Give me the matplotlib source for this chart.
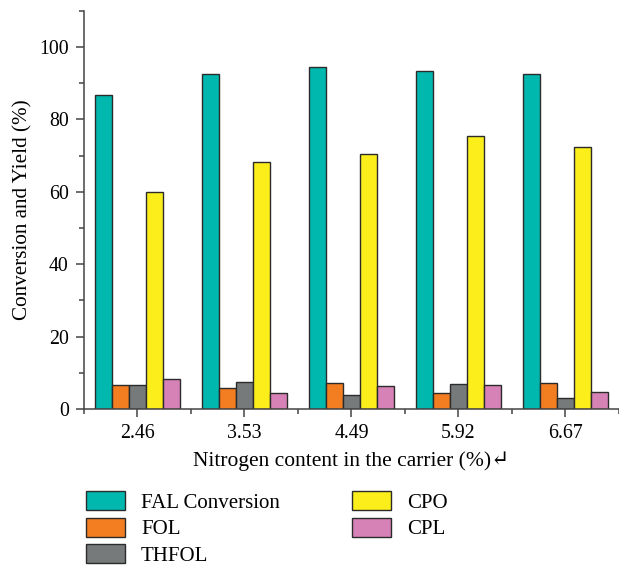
import numpy as np
import matplotlib.pyplot as plt
from matplotlib.ticker import MultipleLocator

plt.rcParams['font.family'] = ['Liberation Serif', 'DejaVu Serif']

carrier_n = ['2.46', '3.53', '4.49', '5.92', '6.67']
fal_conv = [86.8, 92.6, 94.4, 93.3, 92.6]
fol = [6.6, 5.7, 7.3, 4.5, 7.1]
thfol = [6.6, 7.5, 3.8, 6.8, 3.1]
cpo = [60.0, 68.2, 70.4, 75.3, 72.5]
cpl = [8.3, 4.3, 6.5, 6.7, 4.6]

series = [
    ('FAL Conversion', fal_conv, '#00B8AE'),
    ('FOL', fol, '#F37D21'),
    ('THFOL', thfol, '#767A7A'),
    ('CPO', cpo, '#FCEE1A'),
    ('CPL', cpl, '#D682B6'),
]

fig = plt.figure(figsize=(6.19, 5.65), dpi=100)
ax = fig.add_axes([0.1357, 0.276, 0.8643, 0.705])

x = np.arange(len(carrier_n))
w = 0.16
for i, (name, vals, col) in enumerate(series):
    ax.bar(x + (i - 2) * w, vals, w, color=col, edgecolor='#2b2b2b',
           linewidth=1.0, label=name)

ax.set_xlim(-0.5, 4.5)
ax.set_ylim(0, 110)
ax.set_xticks(x)
ax.set_xticklabels(carrier_n)
ax.xaxis.set_minor_locator(MultipleLocator(1, offset=0.5))
ax.yaxis.set_major_locator(MultipleLocator(20))
ax.yaxis.set_minor_locator(MultipleLocator(10))

for s in ['top', 'right']:
    ax.spines[s].set_visible(False)
for s in ['left', 'bottom']:
    ax.spines[s].set_color('#444444')
    ax.spines[s].set_linewidth(1.1)

ax.tick_params(which='major', direction='out', length=6, width=1.1,
               color='#444444', labelsize=14.3, pad=5)
ax.tick_params(which='minor', direction='out', length=3.5, width=1.1,
               color='#444444')

ax.set_ylabel('Conversion and Yield (%)', fontsize=15.2, labelpad=5)
ax.set_xlabel('Nitrogen content in the carrier (%)\u21b5', fontsize=15.5,
              labelpad=6)

fig.legend(loc='upper left', bbox_to_anchor=(0.125, 0.145), ncol=2,
           frameon=False, fontsize=15, handlelength=1.9, handleheight=1.0,
           labelspacing=0.24, columnspacing=3.46, handletextpad=0.75,
           borderaxespad=0)

fig.savefig('out.png', dpi=100)
